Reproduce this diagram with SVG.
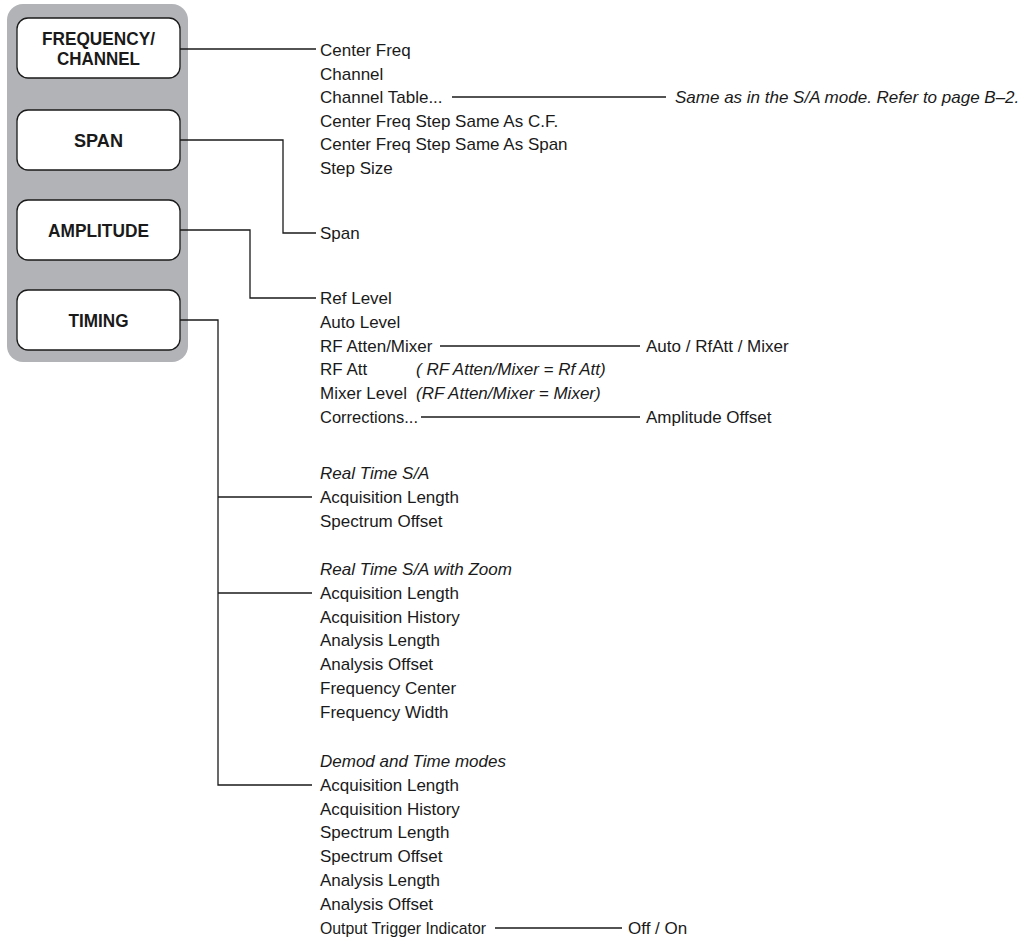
<svg xmlns="http://www.w3.org/2000/svg" width="1028" height="948" viewBox="0 0 1028 948">
<style>
.t{font-family:"Liberation Sans",Arial,sans-serif;font-size:17px;fill:#1a1a1a}
.i{font-style:italic}
.b{font-family:"Liberation Sans",Arial,sans-serif;font-size:19px;font-weight:bold;fill:#1a1a1a;text-anchor:middle}
.btn{fill:#fff;stroke:#1a1a1a;stroke-width:1.3}
.c{fill:none;stroke:#1a1a1a;stroke-width:1.3}
</style>
<rect x="7" y="4" width="181" height="358" rx="16" fill="#b1b3b6"/>
<g id="freq"><rect class="btn" x="17" y="18" width="163" height="60" rx="11"/><text class="b" x="98.5" y="45" textLength="113" lengthAdjust="spacingAndGlyphs">FREQUENCY/</text><text class="b" x="98.5" y="65" textLength="83" lengthAdjust="spacingAndGlyphs">CHANNEL</text></g>
<g id="span"><rect class="btn" x="17" y="110" width="163" height="60" rx="11"/><text class="b" x="98.5" y="147" textLength="49" lengthAdjust="spacingAndGlyphs">SPAN</text></g>
<g id="amplitude"><rect class="btn" x="17" y="200" width="163" height="60" rx="11"/><text class="b" x="98.5" y="237" textLength="101" lengthAdjust="spacingAndGlyphs">AMPLITUDE</text></g>
<g id="timing"><rect class="btn" x="17" y="290" width="163" height="60" rx="11"/><text class="b" x="98.5" y="327" textLength="60" lengthAdjust="spacingAndGlyphs">TIMING</text></g>
<g id="connectors">
<path class="c" d="M180,49 H316"/>
<path class="c" d="M180,140 H283 V233 H316"/>
<path class="c" d="M180,230 H250 V298 H316"/>
<path class="c" d="M180,320 H218 V785 H312"/>
<path class="c" d="M218,497 H312"/>
<path class="c" d="M218,593 H312"/>
<path class="c" d="M452,97 H666"/>
<path class="c" d="M440,346 H640"/>
<path class="c" d="M421,417 H640"/>
<path class="c" d="M495,928 H622"/>
</g>
<g id="freq-items">
<text class="t" x="320" y="56">Center Freq</text>
<text class="t" x="320" y="79.5">Channel</text>
<text class="t" x="320" y="103">Channel Table...</text>
<text class="t" x="320" y="126.5">Center Freq Step Same As C.F.</text>
<text class="t" x="320" y="150">Center Freq Step Same As Span</text>
<text class="t" x="320" y="173.5">Step Size</text>
<text class="t i" x="675" y="103">Same as in the S/A mode. Refer to page B–2.</text>
</g>
<g id="span-items">
<text class="t" x="320" y="239">Span</text>
</g>
<g id="amplitude-items">
<text class="t" x="320" y="304">Ref Level</text>
<text class="t" x="320" y="327.8">Auto Level</text>
<text class="t" x="320" y="351.6">RF Atten/Mixer</text>
<text class="t" x="320" y="375.4">RF Att</text>
<text class="t i" x="416" y="375.4">( RF Atten/Mixer = Rf Att)</text>
<text class="t" x="320" y="399.2">Mixer Level</text>
<text class="t i" x="416" y="399.2">(RF Atten/Mixer = Mixer)</text>
<text class="t" x="320" y="423" textLength="98" lengthAdjust="spacingAndGlyphs">Corrections...</text>
<text class="t" x="646" y="351.6">Auto / RfAtt / Mixer</text>
<text class="t" x="646" y="423">Amplitude Offset</text>
</g>
<g id="timing-items">
<text class="t i" x="320" y="479">Real Time S/A</text>
<text class="t" x="320" y="502.8">Acquisition Length</text>
<text class="t" x="320" y="526.6">Spectrum Offset</text>
<text class="t i" x="320" y="575">Real Time S/A with Zoom</text>
<text class="t" x="320" y="598.8">Acquisition Length</text>
<text class="t" x="320" y="622.6">Acquisition History</text>
<text class="t" x="320" y="646.4">Analysis Length</text>
<text class="t" x="320" y="670.2">Analysis Offset</text>
<text class="t" x="320" y="694">Frequency Center</text>
<text class="t" x="320" y="717.8">Frequency Width</text>
<text class="t i" x="320" y="767">Demod and Time modes</text>
<text class="t" x="320" y="790.8">Acquisition Length</text>
<text class="t" x="320" y="814.6">Acquisition History</text>
<text class="t" x="320" y="838.4">Spectrum Length</text>
<text class="t" x="320" y="862.2">Spectrum Offset</text>
<text class="t" x="320" y="886">Analysis Length</text>
<text class="t" x="320" y="909.8">Analysis Offset</text>
<text class="t" x="320" y="933.6" textLength="166" lengthAdjust="spacingAndGlyphs">Output Trigger Indicator</text>
<text class="t" x="628" y="933.6">Off / On</text>
</g>
</svg>
